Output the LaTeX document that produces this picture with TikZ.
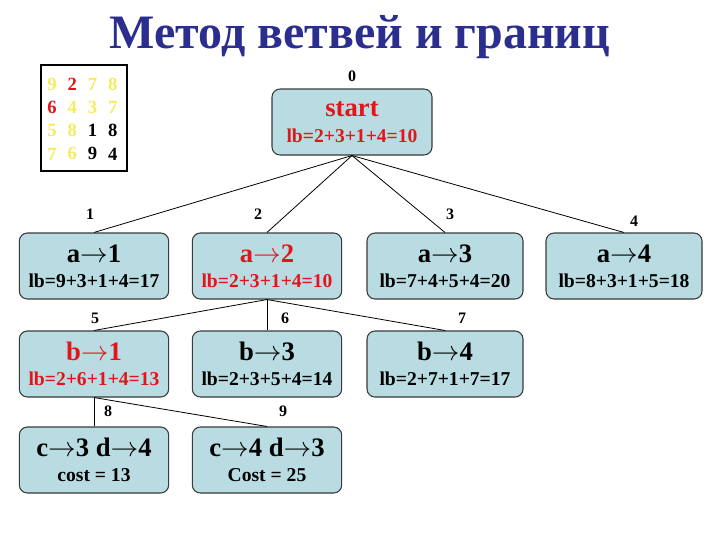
\documentclass[tikz,border=0pt]{standalone}
\usepackage{fontspec}
\setmainfont{Liberation Serif}
\usepackage{tikz}
\usetikzlibrary{positioning}
\definecolor{boxc}{HTML}{B8DCE2}
\definecolor{edgec}{HTML}{3A3A3A}
\definecolor{redc}{HTML}{E3151B}
\definecolor{yelc}{HTML}{F4EC5C}
\definecolor{navy}{HTML}{2B2E8E}
\newcommand\bigtx{\fontsize{20}{22}\selectfont\bfseries}
\newcommand\lbtx{\fontsize{14.7}{17}\selectfont\bfseries}
\newcommand\arw{$\rightarrow$}
\tikzset{
  bnode/.style={draw=edgec, fill=boxc, rounded corners=6pt, line width=0.8pt, align=center,
                minimum width=112pt, minimum height=49.5pt, inner sep=2pt},
  wide/.style={minimum width=117pt},
  hot/.style={text=redc},
  num/.style={font=\fontsize{12}{14}\selectfont\bfseries, inner sep=1pt},
  dig/.style={font=\fontsize{14}{16}\selectfont\bfseries, inner sep=0pt},
  edge/.style={draw=black, line width=0.6pt},
}
\begin{document}
\begin{tikzpicture}[x=0.75pt,y=-0.75pt]
  \useasboundingbox (0,0) rectangle (720,540);
  \node[font=\fontsize{36}{40}\selectfont\bfseries, text=navy, anchor=base] (title) at (360,48) {Метод ветвей и границ};
  % cost matrix
  \node[draw, line width=0.8pt, minimum width=64.5pt, minimum height=79.5pt, inner sep=0pt] (mat) at (84,118) {};
  \foreach \v/\col [count=\k from 0] in {9/yelc,2/redc,7/yelc,8/yelc,6/redc,4/yelc,3/yelc,7/yelc,
                                         5/yelc,8/yelc,1/black,8/black,7/yelc,6/yelc,9/black,4/black}{
    \pgfmathtruncatemacro\rr{div(\k,4)}
    \pgfmathtruncatemacro\cc{mod(\k,4)}
    \node[dig, text=\col] (m\rr\cc) at ({52+20.3*\cc},{84+23.3*\rr}) {\v};
  }
  % tree
  \node[bnode, hot, minimum width=120pt] (st) at (352,122) {\bigtx start\\[7pt] \lbtx lb=2+3+1+4=10};
  \node[bnode]       (a1) at (94,266)  {\bigtx a\arw1\\[7pt] \lbtx lb=9+3+1+4=17};
  \node[bnode, hot]  (a2) at (267,266) {\bigtx a\arw2\\[7pt] \lbtx lb=2+3+1+4=10};
  \node[bnode, wide] (a3) at (445,266) {\bigtx a\arw3\\[7pt] \lbtx lb=7+4+5+4=20};
  \node[bnode, wide] (a4) at (624,266) {\bigtx a\arw4\\[7pt] \lbtx lb=8+3+1+5=18};
  \node[bnode, hot]  (b1) at (94,364)  {\bigtx b\arw1\\[7pt] \lbtx lb=2+6+1+4=13};
  \node[bnode]       (b3) at (267,364) {\bigtx b\arw3\\[7pt] \lbtx lb=2+3+5+4=14};
  \node[bnode, wide] (b4) at (445,364) {\bigtx b\arw4\\[7pt] \lbtx lb=2+7+1+7=17};
  \node[bnode]       (c1) at (94,460)  {\bigtx c\arw3 d\arw4\\[7pt] \lbtx cost = 13};
  \node[bnode]       (c2) at (267,460) {\bigtx c\arw4 d\arw3\\[7pt] \lbtx Cost = 25};
  \foreach \a/\b in {st/a1, st/a2, st/a3, st/a4, a2/b1, a2/b3, a2/b4, b1/c1, b1/c2}
    \draw[edge] (\a.south) -- (\b.north);
  % step numbers
  \node[num] (n0) at (352,76)  {0};
  \node[num] (n1) at (90,214)  {1};
  \node[num] (n2) at (258,214) {2};
  \node[num] (n3) at (450,214) {3};
  \node[num] (n4) at (634,221) {4};
  \node[num] (n5) at (95,318)  {5};
  \node[num] (n6) at (285,318) {6};
  \node[num] (n7) at (462,318) {7};
  \node[num] (n8) at (108,411) {8};
  \node[num] (n9) at (283,411) {9};
\end{tikzpicture}
\end{document}
